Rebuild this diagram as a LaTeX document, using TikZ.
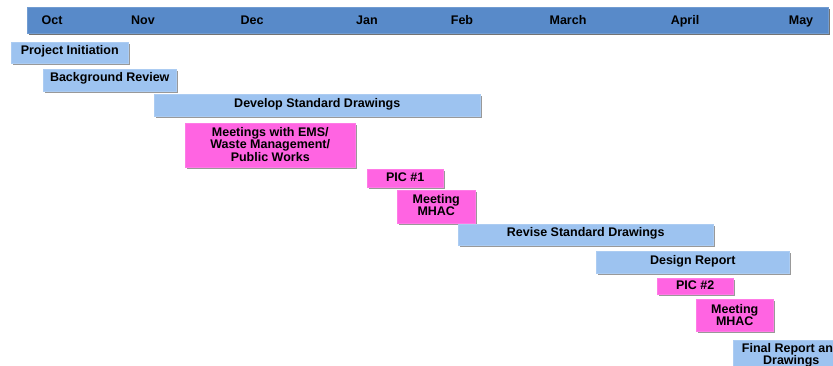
\documentclass[tikz,border=0pt]{standalone}
\usepackage{fontspec}
\setmainfont{Liberation Sans}
\usetikzlibrary{shadows}
\definecolor{headblue}{RGB}{88,138,201}
\definecolor{taskblue}{RGB}{157,195,240}
\definecolor{meetpink}{RGB}{255,100,226}

\begin{document}
\begin{tikzpicture}[x=1pt,y=-1pt]
\tikzset{
  ganttfont/.style={font=\bfseries\fontsize{12.5}{12.5}\selectfont},
  timebar/.style={rectangle,draw=headblue!85!white,line width=0.6pt,fill=headblue,inner sep=0pt,anchor=north west,
    drop shadow={shadow xshift=2pt,shadow yshift=-2pt,fill=black!55,opacity=1}},
  taskbar/.style={rectangle,draw=#1!85!white,line width=0.5pt,fill=#1,inner sep=0pt,anchor=north west,
    drop shadow={shadow xshift=2pt,shadow yshift=-2pt,fill=black!40,opacity=1}},
  month/.style={ganttfont,anchor=base,inner sep=0pt},
  tasktext/.style={ganttfont,align=center,anchor=north,inner sep=0pt}
}
\useasboundingbox (0,0) rectangle (833,366);
\clip (0,0) rectangle (833,366);
% time line
\node[timebar,minimum width=801,minimum height=26] (n_head) at (27,7) {};
\node[month] (m_oct) at (52,25) {Oct};
\node[month] (m_nov) at (143,25) {Nov};
\node[month] (m_dec) at (252,25) {Dec};
\node[month] (m_jan) at (367,25) {Jan};
\node[month] (m_feb) at (462,25) {Feb};
\node[month] (m_mar) at (568,25) {March};
\node[month] (m_apr) at (685,25) {April};
\node[month] (m_may) at (801,25) {May};
% tasks
\node[taskbar=taskblue,minimum width=117,minimum height=21] (n_init) at (11,42) {};
\node[taskbar=taskblue,minimum width=133,minimum height=22] (n_back) at (43,69) {};
\node[taskbar=taskblue,minimum width=326,minimum height=22] (n_dev) at (154,94) {};
\node[taskbar=meetpink,minimum width=170,minimum height=44] (n_ems) at (185,123) {};
\node[taskbar=meetpink,minimum width=76,minimum height=18] (n_pic1) at (367,169) {};
\node[taskbar=meetpink,minimum width=78,minimum height=33] (n_mhac1) at (397,190) {};
\node[taskbar=taskblue,minimum width=255,minimum height=21] (n_rev) at (458,224) {};
\node[taskbar=taskblue,minimum width=193,minimum height=22] (n_des) at (596,251) {};
\node[taskbar=meetpink,minimum width=76,minimum height=16] (n_pic2) at (657,278) {};
\node[taskbar=meetpink,minimum width=77,minimum height=32] (n_mhac2) at (696,299) {};
\node[taskbar=taskblue,minimum width=116,minimum height=44] (n_fin) at (733,340) {};
% task labels
\node[tasktext,yshift=-3pt] (t_init) at (n_init.north) {Project Initiation};
\node[tasktext,yshift=-3pt] (t_back) at (n_back.north) {Background Review};
\node[tasktext,yshift=-4pt] (t_dev) at (n_dev.north) {Develop Standard Drawings};
\node[tasktext,yshift=-4pt] (t_ems) at (n_ems.north) {Meetings with EMS/\\Waste Management/\\Public Works};
\node[tasktext,yshift=-4pt] (t_pic1) at (n_pic1.north) {PIC \#1};
\node[tasktext,yshift=-4pt] (t_mhac1) at (n_mhac1.north) {Meeting\\MHAC};
\node[tasktext,yshift=-3pt] (t_rev) at (n_rev.north) {Revise Standard Drawings};
\node[tasktext,yshift=-4pt] (t_des) at (n_des.north) {Design Report};
\node[tasktext,yshift=-3pt] (t_pic2) at (n_pic2.north) {PIC \#2};
\node[tasktext,yshift=-5pt] (t_mhac2) at (n_mhac2.north) {Meeting\\MHAC};
\node[tasktext,yshift=-3pt] (t_fin) at (n_fin.north) {Final Report and\\Drawings};
\end{tikzpicture}
\end{document}
